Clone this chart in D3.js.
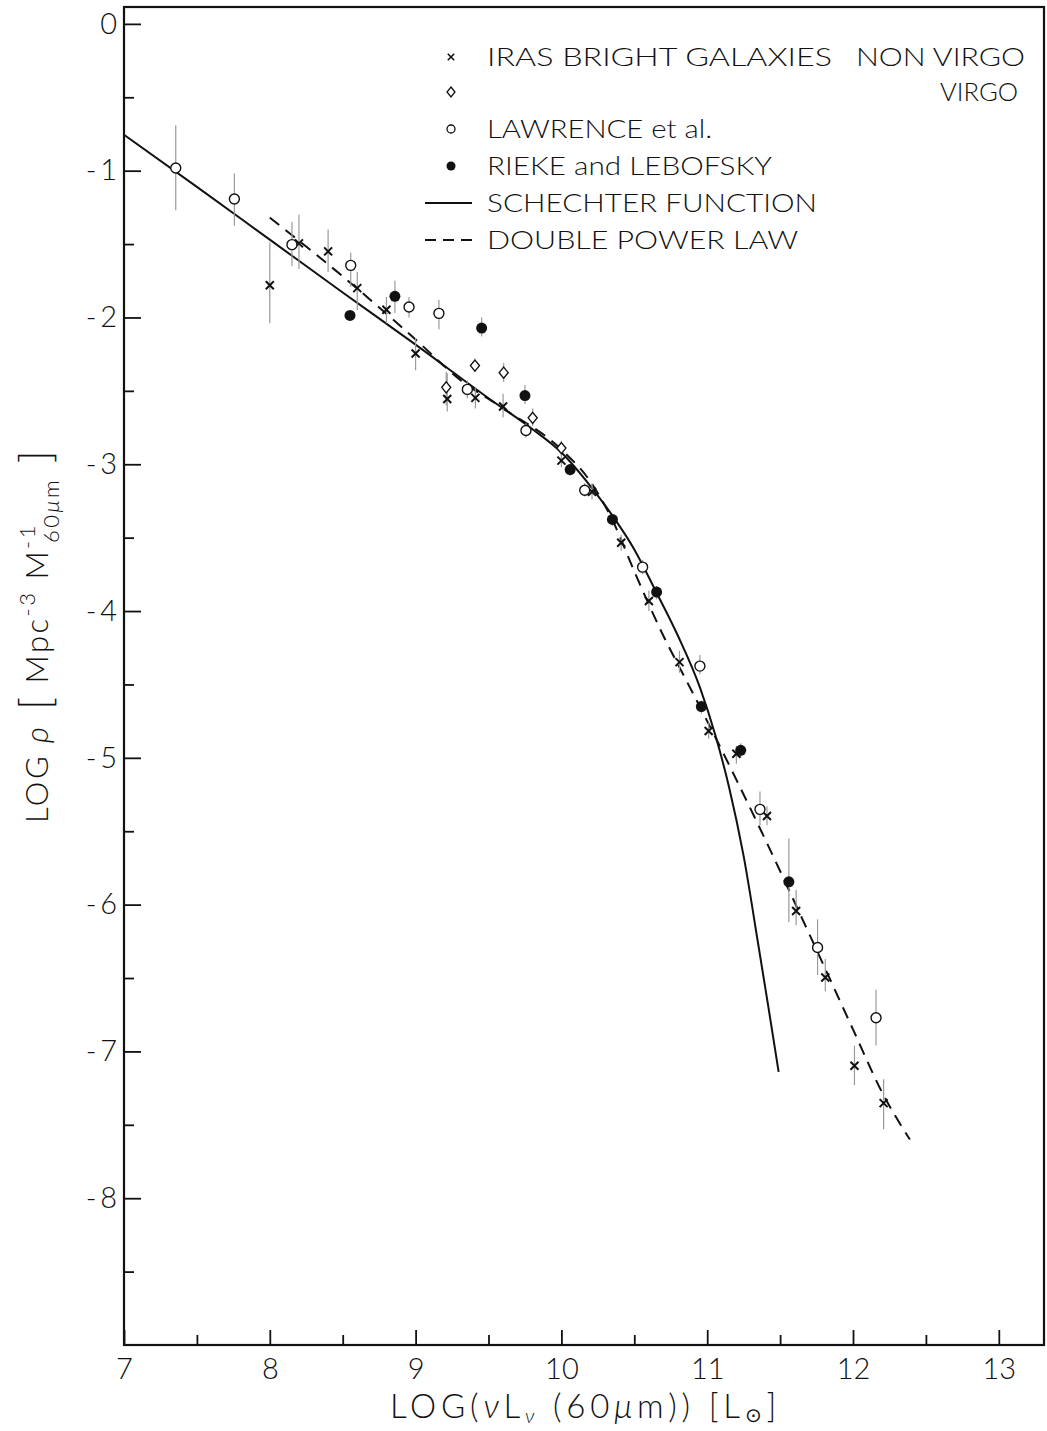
<!DOCTYPE html>
<html><head><meta charset="utf-8">
<script src="https://cdn.jsdelivr.net/npm/d3@7"></script>
<style>
body{margin:0;background:#fff}
text{font-family:Lato,"DejaVu Sans",sans-serif;font-weight:300;fill:#111}
</style>
</head><body>
<svg id="c" width="1047" height="1431"></svg>
<script>
// ---- tick labels ----
const xTicks = [7, 8, 9, 10, 11, 12, 13];
const xMinor = [7.5, 8.5, 9.5, 10.5, 11.5, 12.5];
const yTicks = [0, -1, -2, -3, -4, -5, -6, -7, -8];
const yMinor = [-0.5, -1.5, -2.5, -3.5, -4.5, -5.5, -6.5, -7.5, -8.5];

// ---- IRAS bright galaxies, non Virgo (x) ----
const irasX  = [8.0, 8.2, 8.4, 8.6, 8.8, 9.0, 9.217, 9.41, 9.6, 10.0, 10.21, 10.41, 10.6, 10.81, 11.01, 11.2, 11.41, 11.61, 11.81, 12.01, 12.21];
const irasY  = [-1.78, -1.495, -1.55, -1.80, -1.947, -2.246, -2.555, -2.548, -2.607, -2.975, -3.188, -3.535, -3.932, -4.348, -4.817, -4.972, -5.396, -6.043, -6.497, -7.098, -7.352];
const irasLo = [-2.04, -1.67, -1.69, -1.95, -2.04, -2.36, -2.64, -2.62, -2.68, -3.02, -3.24, -3.59, -4.0, -4.42, -4.87, -5.04, -5.46, -6.14, -6.59, -7.23, -7.53];
const irasHi = [-1.49, -1.30, -1.40, -1.69, -1.86, -2.14, -2.38, -2.48, -2.52, -2.93, -3.13, -3.48, -3.86, -4.27, -4.76, -4.92, -5.33, -5.90, -6.37, -6.96, -7.19];

// ---- IRAS bright galaxies, Virgo (diamonds) ----
const virgoX  = [9.21, 9.407, 9.604, 9.803, 10.0];
const virgoY  = [-2.476, -2.328, -2.376, -2.684, -2.89];
const virgoLo = [-2.60, -2.37, -2.44, -2.74, -2.94];
const virgoHi = [-2.37, -2.28, -2.31, -2.62, -2.84];

// ---- Lawrence et al. (open circles) ----
const lawX  = [7.355, 7.757, 8.152, 8.555, 8.955, 9.16, 9.355, 9.757, 10.16, 10.557, 10.95, 11.362, 11.757, 12.158];
const lawY  = [-0.982, -1.193, -1.504, -1.645, -1.929, -1.972, -2.49, -2.77, -3.177, -3.701, -4.375, -5.351, -6.292, -6.771];
const lawLo = [-1.27, -1.375, -1.65, -1.79, -2.0, -2.08, -2.55, -2.82, -3.22, -3.75, -4.43, -5.46, -6.48, -6.96];
const lawHi = [-0.69, -1.02, -1.35, -1.56, -1.86, -1.88, -2.43, -2.72, -3.13, -3.65, -4.30, -5.23, -6.10, -6.58];

// ---- Rieke and Lebofsky (filled circles) ----
const riekeX  = [8.55, 8.858, 9.453, 9.75, 10.06, 10.35, 10.653, 10.96, 11.23, 11.56];
const riekeY  = [-1.986, -1.856, -2.072, -2.532, -3.036, -3.376, -3.871, -4.651, -4.949, -5.845];
const riekeLo = [-1.99, -1.97, -2.13, -2.59, -3.08, -3.42, -3.92, -4.70, -5.00, -6.12];
const riekeHi = [-1.98, -1.75, -2.00, -2.46, -3.00, -3.34, -3.83, -4.61, -4.90, -5.55];

// ---- Schechter function (solid) ----
const schX = [7.0, 7.5, 8.0, 8.5, 9.0, 9.5, 9.8, 10.0, 10.2, 10.35, 10.5, 10.65, 10.8, 10.95, 11.06, 11.15, 11.25, 11.35, 11.42, 11.49];
const schY = [-0.755, -1.11, -1.47, -1.83, -2.185, -2.55, -2.76, -2.92, -3.15, -3.35, -3.58, -3.87, -4.17, -4.52, -4.86, -5.2, -5.67, -6.27, -6.7, -7.14];

// ---- Double power law (dashed) ----
const dplX = [8.0, 8.5, 9.0, 9.3, 9.6, 10.0, 10.2, 10.35, 10.5, 10.7, 10.85, 11.0, 11.4, 11.7, 12.0, 12.2, 12.39];
const dplY = [-1.32, -1.72, -2.15, -2.42, -2.62, -2.90, -3.12, -3.38, -3.73, -4.17, -4.46, -4.75, -5.56, -6.2, -6.85, -7.28, -7.60];

// ---- legend ----
const legendLabels = ["IRAS BRIGHT GALAXIES", "", "LAWRENCE et al.", "RIEKE and LEBOFSKY", "SCHECHTER FUNCTION", "DOUBLE POWER LAW"];
const legendSide = ["NON VIRGO", "VIRGO"];

const svg = d3.select("#c");
const x = d3.scaleLinear().domain([7, 13.31]).range([124, 1044]);
const y = d3.scaleLinear().domain([-9, 0.115]).range([1345, 7]);

// axes
const fmtY = d => d === 0 ? "0" : "-\u2009" + Math.abs(d);
const gx = svg.append("g").attr("transform", `translate(0,${y(-9)})`)
  .call(d3.axisBottom(x).tickValues(xTicks).tickSizeInner(-15).tickSizeOuter(0).tickPadding(13).tickFormat(d3.format("d")));
const gxm = svg.append("g").attr("transform", `translate(0,${y(-9)})`)
  .call(d3.axisBottom(x).tickValues(xMinor).tickSizeInner(-10).tickSizeOuter(0).tickFormat(""));
const gy = svg.append("g").attr("transform", `translate(${x(7)},0)`)
  .call(d3.axisLeft(y).tickValues(yTicks).tickSizeInner(-17).tickSizeOuter(0).tickPadding(7).tickFormat(fmtY));
const gym = svg.append("g").attr("transform", `translate(${x(7)},0)`)
  .call(d3.axisLeft(y).tickValues(yMinor).tickSizeInner(-10).tickSizeOuter(0).tickFormat(""));
[gx, gxm, gy, gym].forEach(g => {
  g.select(".domain").remove();
  g.selectAll(".tick line").attr("stroke", "#111").attr("stroke-width", 1.8);
  g.selectAll(".tick text").attr("font-size", 29).attr("fill", "#111")
    .style("font-family", "Lato, 'DejaVu Sans', sans-serif").style("font-weight", 300);
});

// frame
svg.append("rect").attr("x", x(7)).attr("y", y(0.115)).attr("width", x(13.31) - x(7)).attr("height", y(-9) - y(0.115))
  .attr("fill", "none").attr("stroke", "#111").attr("stroke-width", 2.2);

// curves
const line = d3.line().x(d => x(d[0])).y(d => y(d[1])).curve(d3.curveMonotoneX);
svg.append("path").datum(schX.map((v, i) => [v, schY[i]])).attr("d", line)
  .attr("fill", "none").attr("stroke", "#111").attr("stroke-width", 2);
svg.append("path").datum(dplX.map((v, i) => [v, dplY[i]])).attr("d", line)
  .attr("fill", "none").attr("stroke", "#111").attr("stroke-width", 2).attr("stroke-dasharray", "12,8");

// error bars
function errs(xs, lo, hi) {
  svg.append("g").selectAll("line").data(xs).join("line")
    .attr("x1", d => x(d)).attr("x2", d => x(d))
    .attr("y1", (d, i) => y(lo[i])).attr("y2", (d, i) => y(hi[i]))
    .attr("stroke", "#9a9a9a").attr("stroke-width", 1.2);
}
errs(irasX, irasLo, irasHi);
errs(virgoX, virgoLo, virgoHi);
errs(lawX, lawLo, lawHi);
errs(riekeX, riekeLo, riekeHi);

// markers
const crossPath = s => `M${-s},${-s}L${s},${s}M${-s},${s}L${s},${-s}`;
const diamondPath = (w, h) => `M0,${-h}L${w},0L0,${h}L${-w},0Z`;
svg.append("g").selectAll("path").data(irasX).join("path")
  .attr("transform", (d, i) => `translate(${x(d)},${y(irasY[i])})`)
  .attr("d", crossPath(4)).attr("stroke", "#111").attr("stroke-width", 2).attr("fill", "none");
svg.append("g").selectAll("path").data(virgoX).join("path")
  .attr("transform", (d, i) => `translate(${x(d)},${y(virgoY[i])})`)
  .attr("d", diamondPath(4.5, 5.5)).attr("stroke", "#111").attr("stroke-width", 1.4).attr("fill", "#fff");
svg.append("g").selectAll("circle").data(lawX).join("circle")
  .attr("cx", d => x(d)).attr("cy", (d, i) => y(lawY[i])).attr("r", 5)
  .attr("stroke", "#111").attr("stroke-width", 1.4).attr("fill", "#fff");
svg.append("g").selectAll("circle").data(riekeX).join("circle")
  .attr("cx", d => x(d)).attr("cy", (d, i) => y(riekeY[i])).attr("r", 5.5).attr("fill", "#111");

// legend
const lg = svg.append("g");
const rowY = [57, 92, 129, 166, 203, 240];
const lw = [345, 0, 225, 285, 330, 311];
legendLabels.forEach((t, i) => {
  if (!t) return;
  lg.append("text").attr("x", 487).attr("y", rowY[i] + 9).attr("font-size", 25)
    .attr("textLength", lw[i]).attr("lengthAdjust", "spacingAndGlyphs").text(t);
});
lg.append("text").attr("x", 856).attr("y", rowY[0] + 9).attr("font-size", 25).attr("textLength", 169).attr("lengthAdjust", "spacingAndGlyphs").text(legendSide[0]);
lg.append("text").attr("x", 940).attr("y", rowY[1] + 9).attr("font-size", 25).attr("textLength", 78).attr("lengthAdjust", "spacingAndGlyphs").text(legendSide[1]);
lg.append("path").attr("transform", `translate(451,${rowY[0]})`).attr("d", crossPath(3.2)).attr("stroke", "#111").attr("stroke-width", 1.6);
lg.append("path").attr("transform", `translate(451,${rowY[1]})`).attr("d", diamondPath(4, 5)).attr("stroke", "#111").attr("stroke-width", 1.3).attr("fill", "#fff");
lg.append("circle").attr("cx", 451).attr("cy", rowY[2]).attr("r", 4).attr("stroke", "#111").attr("stroke-width", 1.3).attr("fill", "#fff");
lg.append("circle").attr("cx", 451).attr("cy", rowY[3]).attr("r", 4.5).attr("fill", "#111");
lg.append("line").attr("x1", 425).attr("x2", 472).attr("y1", rowY[4]).attr("y2", rowY[4]).attr("stroke", "#111").attr("stroke-width", 2);
lg.append("line").attr("x1", 425).attr("x2", 472).attr("y1", rowY[5]).attr("y2", rowY[5]).attr("stroke", "#111").attr("stroke-width", 2).attr("stroke-dasharray", "11,7");

// x title
const xt = svg.append("text").attr("x", 390).attr("y", 1418).attr("font-size", 33).attr("letter-spacing", 4.8);
xt.append("tspan").text("LOG(");
xt.append("tspan").attr("font-style", "italic").text("ν");
xt.append("tspan").text("L");
xt.append("tspan").attr("font-style", "italic").attr("font-size", 20).attr("dy", 5).text("ν");
xt.append("tspan").attr("dy", -5).text(" (60");
xt.append("tspan").attr("font-style", "italic").text("μ");
xt.append("tspan").text("m))  [L");
xt.append("tspan").attr("font-size", 20).attr("dy", 4).text("⊙");
xt.append("tspan").attr("dy", -4).text("]");

// y title
const yt = svg.append("text").attr("transform", "translate(48,823) rotate(-90)").attr("font-size", 31).attr("letter-spacing", 2.5);
yt.append("tspan").text("LOG ");
yt.append("tspan").attr("font-style", "italic").text("ρ");
yt.append("tspan").attr("font-size", 44).attr("dy", 3).text(" [");
yt.append("tspan").attr("dy", -3).text(" Mpc");
yt.append("tspan").attr("font-size", 22).attr("dy", -13).text("-3");
yt.append("tspan").attr("dy", 13).text("  M");
yt.append("tspan").attr("font-size", 22).attr("dy", -13).text("-1");
yt.append("tspan").attr("font-size", 22).attr("dx", -20).attr("dy", 24).text("60");
yt.append("tspan").attr("font-size", 22).attr("font-style", "italic").text("μ");
yt.append("tspan").attr("font-size", 22).text("m");
yt.append("tspan").attr("font-size", 44).attr("dy", -8).text("  ]");
</script>
</body></html>
